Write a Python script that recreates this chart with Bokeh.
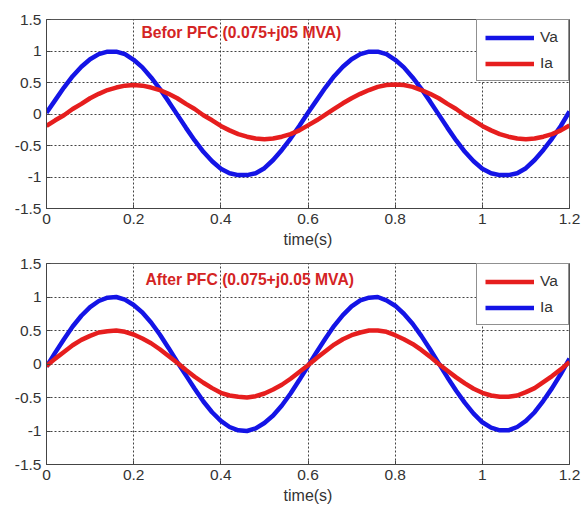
from bokeh.plotting import figure
from bokeh.layouts import column
from bokeh.models import Range1d, FixedTicker, Label, Legend, LegendItem
from bokeh.embed import file_html
from bokeh.resources import INLINE

# ---------------- data ----------------
t = [round(0.02 * k, 2) for k in range(61)]

# top panel: before PFC
va_before = [0.02, 0.22, 0.42, 0.6, 0.75, 0.87, 0.95, 0.99, 0.99, 0.95,
             0.86, 0.74, 0.58, 0.4, 0.2, -0.01, -0.22, -0.42, -0.6, -0.75,
             -0.87, -0.94, -0.97, -0.97, -0.94, -0.86, -0.73, -0.57, -0.39, -0.19,
             0.02, 0.22, 0.42, 0.6, 0.75, 0.87, 0.95, 0.99, 0.99, 0.95,
             0.86, 0.74, 0.58, 0.4, 0.2, -0.01, -0.22, -0.42, -0.6, -0.75,
             -0.87, -0.94, -0.97, -0.97, -0.94, -0.86, -0.73, -0.57, -0.39, -0.19,
             0.04]
ia_before = [-0.19, -0.1, -0.02, 0.08, 0.16, 0.25, 0.32, 0.38, 0.42, 0.45,
             0.46, 0.45, 0.42, 0.38, 0.32, 0.25, 0.16, 0.08, -0.02, -0.1,
             -0.19, -0.26, -0.32, -0.36, -0.39, -0.4, -0.39, -0.36, -0.32, -0.26,
             -0.18, -0.1, -0.01, 0.08, 0.17, 0.25, 0.32, 0.38, 0.43, 0.46,
             0.47, 0.46, 0.43, 0.38, 0.32, 0.25, 0.16, 0.08, -0.02, -0.1,
             -0.19, -0.26, -0.32, -0.36, -0.39, -0.4, -0.39, -0.36, -0.32, -0.26,
             -0.18]

# bottom panel: after PFC
va_after = [-0.04, 0.17, 0.37, 0.56, 0.72, 0.85, 0.94, 0.99, 1.0, 0.96,
            0.88, 0.77, 0.62, 0.44, 0.24, 0.03, -0.17, -0.37, -0.56, -0.72,
            -0.85, -0.94, -0.99, -1.0, -0.96, -0.88, -0.77, -0.62, -0.44, -0.24,
            -0.03, 0.18, 0.38, 0.57, 0.73, 0.86, 0.95, 0.99, 1.0, 0.95,
            0.87, 0.75, 0.6, 0.42, 0.22, 0.01, -0.2, -0.4, -0.58, -0.74,
            -0.87, -0.95, -0.99, -0.99, -0.94, -0.85, -0.72, -0.55, -0.36, -0.15,
            0.08]
ia_after = [-0.03, 0.08, 0.18, 0.28, 0.36, 0.42, 0.47, 0.49, 0.5, 0.48,
            0.44, 0.38, 0.31, 0.22, 0.12, 0.02, -0.09, -0.19, -0.28, -0.36,
            -0.43, -0.47, -0.49, -0.5, -0.48, -0.44, -0.38, -0.31, -0.22, -0.12,
            -0.02, 0.09, 0.19, 0.29, 0.37, 0.43, 0.47, 0.5, 0.5, 0.48,
            0.43, 0.37, 0.3, 0.21, 0.11, 0.0, -0.1, -0.2, -0.29, -0.37,
            -0.43, -0.47, -0.49, -0.49, -0.47, -0.42, -0.36, -0.27, -0.18, -0.08,
            0.03]

x_ticks = [0, 0.2, 0.4, 0.6, 0.8, 1.0, 1.2]
x_tick_labels = ["0", "0.2", "0.4", "0.6", "0.8", "1", "1.2"]
y_ticks = [-1.5, -1, -0.5, 0, 0.5, 1, 1.5]
y_tick_labels = ["-1.5", "-1", "-0.5", "0", "0.5", "1", "1.5"]

x_label = "time(s)"
title_before = "Befor PFC (0.075+j05 MVA)"
title_after = "After PFC (0.075+j0.05 MVA)"

BLUE = "#1414e6"
RED = "#e61e1e"
TXT_RED = "#d42424"
FONT = "Liberation Sans"


def make_panel(height, mb_left, mb_right, mb_top, mb_bottom,
               y1, y2, c1, c2, n1, n2, title, tx, ty):
    p = figure(width=588, height=height, output_backend="svg",
               toolbar_location=None,
               x_range=Range1d(0, 1.2), y_range=Range1d(-1.5, 1.5),
               min_border_left=mb_left, min_border_right=mb_right,
               min_border_top=mb_top, min_border_bottom=mb_bottom)
    p.background_fill_color = "white"
    p.border_fill_color = "white"
    p.outline_line_color = "#555555"
    p.outline_line_width = 1

    r1 = p.line(t, y1, line_color=c1, line_width=4.5)
    r2 = p.line(t, y2, line_color=c2, line_width=4.5)

    for ax in (p.xaxis[0], p.yaxis[0]):
        ax.axis_line_color = "#444444"
        ax.major_tick_line_color = "#444444"
        ax.minor_tick_line_color = None
        ax.major_tick_in = 4
        ax.major_tick_out = 0
        ax.major_label_text_font = FONT
        ax.major_label_text_font_size = "15.5px"
        ax.major_label_text_color = "#333333"
        ax.major_label_standoff = 5

    p.xaxis.ticker = FixedTicker(ticks=x_ticks)
    p.xaxis.major_label_overrides = {v: s for v, s in zip(x_ticks, x_tick_labels)}
    p.yaxis.ticker = FixedTicker(ticks=y_ticks)
    p.yaxis.major_label_overrides = {v: s for v, s in zip(y_ticks, y_tick_labels)}

    p.xaxis.axis_label = x_label
    p.xaxis.axis_label_text_font = FONT
    p.xaxis.axis_label_text_font_size = "16px"
    p.xaxis.axis_label_text_font_style = "normal"
    p.xaxis.axis_label_text_color = "#333333"
    p.xaxis.axis_label_standoff = 4

    for g in (p.xgrid[0], p.ygrid[0]):
        g.grid_line_color = "#222222"
        g.grid_line_dash = "2 2"
        g.grid_line_width = 1
        g.grid_line_alpha = 0.85

    p.add_layout(Label(x=tx, y=ty, text=title, text_font=FONT,
                       text_font_size="15.7px", text_font_style="bold",
                       text_color=TXT_RED, text_align="left",
                       text_baseline="middle"))

    legend = Legend(items=[LegendItem(label=n1, renderers=[r1]),
                           LegendItem(label=n2, renderers=[r2])],
                    location="top_right", margin=0, padding=8,
                    spacing=8, glyph_width=49, glyph_height=17,
                    label_height=17, label_standoff=6,
                    label_text_font=FONT, label_text_font_size="15.5px",
                    label_text_color="#333333",
                    border_line_color="#222222", border_line_width=1,
                    background_fill_color="white", background_fill_alpha=1)
    p.add_layout(legend)
    return p


p1 = make_panel(253, 46, 14, 19, 45, va_before, ia_before, BLUE, RED,
                "Va", "Ia", title_before, 0.218, 1.29)
p2 = make_panel(257, 45, 19, 10, 46, va_after, ia_after, BLUE, RED,
                "Ia", "Va", title_after, 0.227, 1.26)
# bottom legend lists Va (red) first, then Ia (blue)
p2.legend[0].items = list(reversed(p2.legend[0].items))

layout = column(p1, p2, spacing=0)

open("out.html", "w").write(file_html(layout, INLINE))
